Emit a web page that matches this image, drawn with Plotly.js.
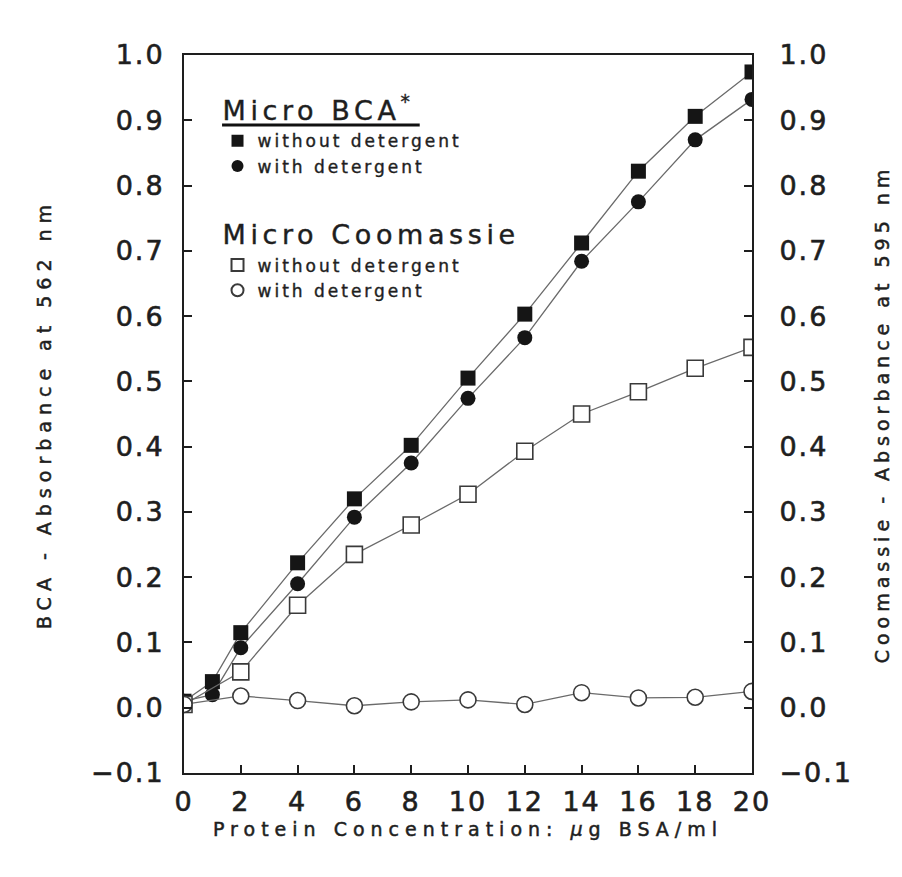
<!DOCTYPE html>
<html>
<head>
<meta charset="utf-8">
<script src="https://cdn.plot.ly/plotly-3.0.1.min.js"></script>
<style>
  html, body { margin: 0; padding: 0; background: #fff; }
  #chart { width: 902px; height: 877px; }
  .xtick text, .ytick text, .y2tick text { letter-spacing: 2px; stroke: #222; stroke-width: 0.6px; }
  .legendtext { letter-spacing: 3px; stroke: #222; stroke-width: 0.4px; }
  .xtitle, .ytitle { letter-spacing: 6px; stroke: #222; stroke-width: 0.5px; }
  .y2title { letter-spacing: 5px; stroke: #222; stroke-width: 0.5px; }
</style>
</head>
<body>
<div id="chart"></div>
<script>
// ---- data ----
const bcaX = [0, 1, 2, 4, 6, 8, 10, 12, 14, 16, 18, 20];
const bcaWithout = [0.010, 0.040, 0.115, 0.222, 0.320, 0.402, 0.505, 0.603, 0.712, 0.822, 0.906, 0.974];
const bcaWith    = [0.010, 0.020, 0.092, 0.190, 0.292, 0.375, 0.474, 0.567, 0.684, 0.775, 0.870, 0.932];

const coomX = [0, 2, 4, 6, 8, 10, 12, 14, 16, 18, 20];
const coomWithout = [0.005, 0.055, 0.157, 0.235, 0.280, 0.327, 0.393, 0.450, 0.484, 0.520, 0.552];
const coomWith    = [0.005, 0.018, 0.011, 0.003, 0.009, 0.012, 0.005, 0.023, 0.015, 0.016, 0.025];

const xTicks = [0, 2, 4, 6, 8, 10, 12, 14, 16, 18, 20];
const yTicks = [-0.1, 0.0, 0.1, 0.2, 0.3, 0.4, 0.5, 0.6, 0.7, 0.8, 0.9, 1.0];

const seriesLabels = ['without detergent', 'with detergent'];
const groupTitles = ['Micro BCA<sup>*</sup>', 'Micro Coomassie'];

// ---- styles ----
const FONT = 'DejaVu Sans, Arial, sans-serif';
const INK = '#1e1e1e';
const LINE = '#6a6a6a';

function lineTrace(x, y, yaxis) {
  return { x: x, y: y, yaxis: yaxis, type: 'scatter', mode: 'lines',
           line: { color: LINE, width: 1.3 }, showlegend: false, hoverinfo: 'skip' };
}
function markerTrace(x, y, yaxis, name, group, title, symbol, filled) {
  return {
    x: x, y: y, yaxis: yaxis, type: 'scatter', mode: 'markers', name: name,
    legendgroup: group,
    legendgrouptitle: {
      text: '<span style="letter-spacing:4.6px">' + title + '</span>',
      font: { family: FONT, size: 27, color: INK }
    },
    marker: {
      symbol: symbol, size: filled ? 15 : 16,
      color: filled ? '#151515' : '#ffffff',
      line: { color: filled ? '#151515' : '#3a3a3a', width: filled ? 0 : 1.6 }
    }
  };
}

const traces = [
  lineTrace(bcaX, bcaWithout, 'y'),
  lineTrace(bcaX, bcaWith, 'y'),
  lineTrace(coomX, coomWithout, 'y2'),
  lineTrace(coomX, coomWith, 'y2'),
  markerTrace(bcaX, bcaWithout, 'y', seriesLabels[0], 'bca', groupTitles[0], 'square', true),
  markerTrace(bcaX, bcaWith, 'y', seriesLabels[1], 'bca', groupTitles[0], 'circle', true),
  markerTrace(coomX, coomWithout, 'y2', seriesLabels[0], 'coom', groupTitles[1], 'square', false),
  markerTrace(coomX, coomWith, 'y2', seriesLabels[1], 'coom', groupTitles[1], 'circle', false)
];

const axisCommon = {
  showgrid: false, zeroline: false,
  showline: true, linecolor: INK, linewidth: 2,
  ticks: 'inside', ticklen: 8, tickwidth: 2, tickcolor: INK,
  tickfont: { family: FONT, size: 27, color: INK }
};
const titleFont = { family: FONT, size: 19, color: INK };

const layout = {
  width: 902, height: 877,
  paper_bgcolor: '#ffffff', plot_bgcolor: '#ffffff',
  margin: { l: 184, r: 150, t: 55, b: 104 },
  showlegend: true,
  legend: {
    x: 0.059, y: 0.958, xanchor: 'left', yanchor: 'top',
    bgcolor: 'rgba(0,0,0,0)', borderwidth: 0,
    font: { family: FONT, size: 17, color: INK },
    itemsizing: 'constant', tracegroupgap: 36, traceorder: 'grouped',
    groupclick: 'toggleitem'
  },
  xaxis: Object.assign({}, axisCommon, {
    range: [0, 20], tickvals: xTicks, mirror: true,
    ticklabelstandoff: 4,
    title: { text: 'Protein Concentration: <i>µ</i>g BSA/ml', standoff: 6, font: titleFont }
  }),
  yaxis: Object.assign({}, axisCommon, {
    range: [-0.1, 1.0], tickvals: yTicks, tickformat: '.1f',
    ticklabelstandoff: 12,
    title: { text: 'BCA - Absorbance at 562 nm', standoff: 34, font: titleFont }
  }),
  yaxis2: Object.assign({}, axisCommon, {
    range: [-0.1, 1.0], tickvals: yTicks, tickformat: '.1f',
    overlaying: 'y', side: 'right', anchor: 'x',
    ticklabelstandoff: 20,
    title: { text: 'Coomassie - Absorbance at 595 nm', standoff: 24, font: titleFont }
  }),
  shapes: [
    { type: 'line', xref: 'paper', yref: 'paper',
      x0: 0.067, x1: 0.415, y0: 0.9025, y1: 0.9025,
      line: { color: '#111', width: 3 } }
  ]
};

Plotly.newPlot('chart', traces, layout, { displayModeBar: false, staticPlot: true });
</script>
</body>
</html>
